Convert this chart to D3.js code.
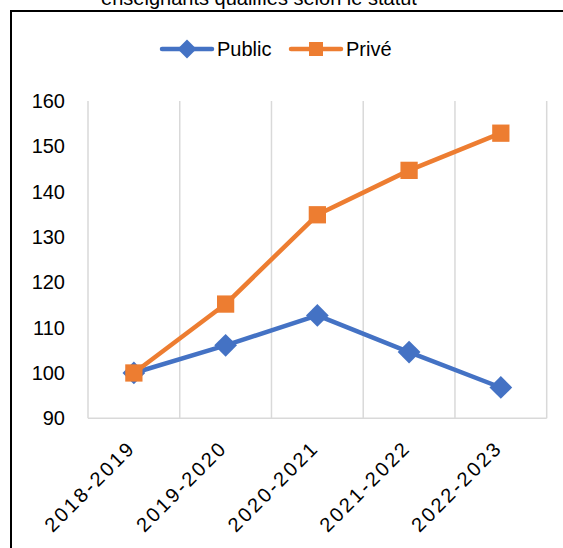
<!DOCTYPE html>
<html>
<head>
<meta charset="utf-8">
<script src="https://cdn.jsdelivr.net/npm/d3@7"></script>
<style>
  html, body { margin: 0; padding: 0; background: #fff; }
  svg { display: block; font-family: "Liberation Sans", Arial, sans-serif; }
</style>
</head>
<body>
<div id="chart"></div>
<script>
// data
var categories = ["2018-2019", "2019-2020", "2020-2021", "2021-2022", "2022-2023"];
var publicValues = [100, 106.1, 112.7, 104.6, 96.8];
var priveValues = [100, 115.2, 134.9, 144.7, 152.9];
var yTicks = [90, 100, 110, 120, 130, 140, 150, 160];
var seriesNames = ["Public", "Privé"];
var titleText = "enseignants qualifiés selon le statut";

var width = 563, height = 548;
var blue = "#4472C4", orange = "#ED7D31";

var svg = d3.select("#chart").append("svg")
  .attr("width", width)
  .attr("height", height);

// title, cut off by the top edge like in the original
svg.append("text")
  .attr("x", 259)
  .attr("y", 5)
  .attr("text-anchor", "middle")
  .style("font-size", "20px")
  .attr("fill", "#000")
  .text(titleText);

// frame (runs off the right and bottom of the picture)
svg.append("rect")
  .attr("x", 11).attr("y", 11)
  .attr("width", 700).attr("height", 700)
  .attr("fill", "none")
  .attr("stroke", "#000")
  .attr("stroke-width", 2);

var x = d3.scaleBand().domain(categories).range([88, 546.7]).paddingInner(0).paddingOuter(0);
var y = d3.scaleLinear().domain([90, 160]).range([418.3, 101]);
var cx = function (c) { return x(c) + x.bandwidth() / 2; };

// vertical gridlines between categories
var gridX = categories.map(function (c) { return x(c); }).concat([x.range()[1]]);
svg.append("g").selectAll("line")
  .data(gridX)
  .enter().append("line")
  .attr("x1", function (d) { return d; })
  .attr("x2", function (d) { return d; })
  .attr("y1", y(160))
  .attr("y2", y(90))
  .attr("stroke", "#d9d9d9")
  .attr("stroke-width", 1.5);

// bottom axis line
svg.append("line")
  .attr("x1", x.range()[0]).attr("x2", x.range()[1])
  .attr("y1", y(90)).attr("y2", y(90))
  .attr("stroke", "#d9d9d9")
  .attr("stroke-width", 1.5);

// y labels
svg.append("g").selectAll("text")
  .data(yTicks)
  .enter().append("text")
  .attr("x", 65)
  .attr("y", function (d) { return y(d); })
  .attr("dy", "0.35em")
  .attr("text-anchor", "end")
  .style("font-size", "20px")
  .attr("fill", "#000")
  .text(function (d) { return d; });

// x labels, rotated
svg.append("g").selectAll("text")
  .data(categories)
  .enter().append("text")
  .attr("transform", function (d) { return "translate(" + (cx(d) - 2) + ",444) rotate(-45)"; })
  .attr("dy", "0.35em")
  .attr("text-anchor", "end")
  .style("font-size", "20px")
  .style("letter-spacing", "2.6px")
  .attr("fill", "#000")
  .text(function (d) { return d; });

var line = d3.line()
  .x(function (d, i) { return cx(categories[i]); })
  .y(function (d) { return y(d); });

function drawSeries(values, color, symbolType, size) {
  svg.append("path")
    .datum(values)
    .attr("d", line)
    .attr("fill", "none")
    .attr("stroke", color)
    .attr("stroke-width", 4.5)
    .attr("stroke-linejoin", "round")
    .attr("stroke-linecap", "round");
  svg.append("g").selectAll("path")
    .data(values)
    .enter().append("path")
    .attr("d", d3.symbol().type(symbolType).size(size))
    .attr("transform", function (d, i) { return "translate(" + cx(categories[i]) + "," + y(d) + ")"; })
    .attr("fill", color);
}

drawSeries(publicValues, blue, d3.symbolDiamond2, 330);
drawSeries(priveValues, orange, d3.symbolSquare2, 380);

// legend
var legendItems = [
  { name: seriesNames[0], color: blue, sym: d3.symbolDiamond2, size: 230, x0: 162 },
  { name: seriesNames[1], color: orange, sym: d3.symbolSquare2, size: 250, x0: 291 }
];
var lg = svg.append("g").selectAll("g")
  .data(legendItems)
  .enter().append("g")
  .attr("transform", function (d) { return "translate(" + d.x0 + ",49)"; });
lg.append("line")
  .attr("x1", 0).attr("x2", 50)
  .attr("stroke", function (d) { return d.color; })
  .attr("stroke-width", 4.5)
  .attr("stroke-linecap", "round");
lg.append("path")
  .attr("d", function (d) { return d3.symbol().type(d.sym).size(d.size)(); })
  .attr("transform", "translate(25,0)")
  .attr("fill", function (d) { return d.color; });
lg.append("text")
  .attr("x", 55)
  .attr("dy", "0.35em")
  .style("font-size", "20px")
  .attr("fill", "#000")
  .text(function (d) { return d.name; });
</script>
</body>
</html>
